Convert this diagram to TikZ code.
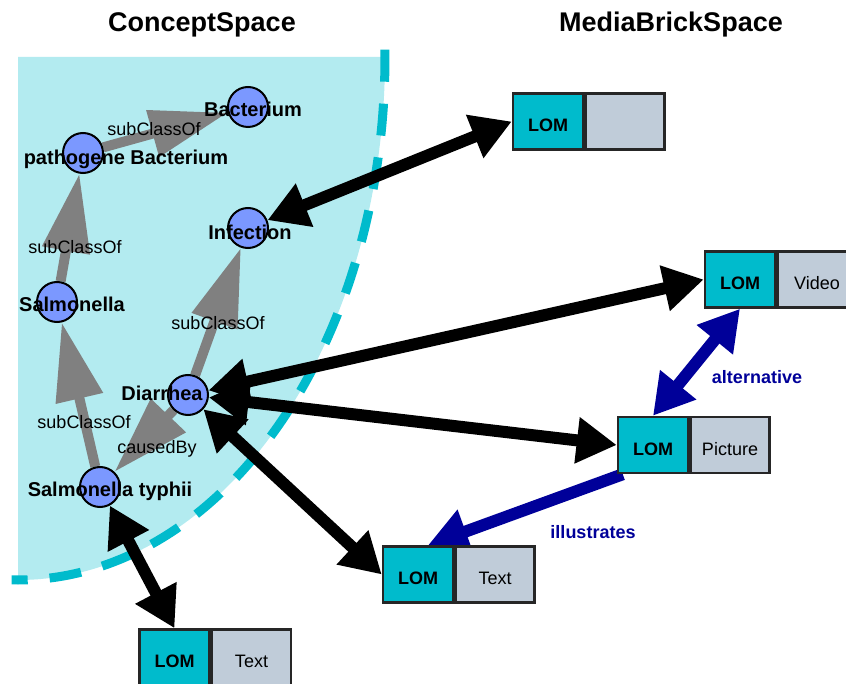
\documentclass[tikz,border=0pt]{standalone}
\usepackage{fontspec}
\setmainfont{Liberation Sans}
\usepackage{tikz}
\usetikzlibrary{arrows.meta, positioning, calc}
\definecolor{ConceptFill}{HTML}{B3EBF0}
\definecolor{ConceptEdge}{HTML}{00BBCC}
\definecolor{NodeBlue}{HTML}{7B98FF}
\definecolor{LomCyan}{HTML}{00BBCC}
\definecolor{MediaGray}{HTML}{C0CCD9}
\definecolor{RelGray}{HTML}{808080}
\definecolor{LinkNavy}{HTML}{000099}
\pgfdeclarelayer{background}
\pgfdeclarelayer{edges}
\pgfsetlayers{background,edges,main}

\begin{document}
\begin{tikzpicture}[x=1pt, y=-1pt,
    spacetitle/.style={font=\fontsize{27}{30}\selectfont\bfseries, inner sep=0pt, text height=19pt, text depth=0pt},
    concept/.style={circle, draw=black, line width=2pt, fill=NodeBlue, minimum size=40pt, inner sep=0pt},
    conceptname/.style={font=\fontsize{20}{22}\selectfont\bfseries, inner sep=0pt, text height=14pt, text depth=0pt},
    rel/.style={draw=RelGray, line width=10pt, -{Triangle[length=78pt, width=46pt]}},
    rellabel/.style={font=\fontsize{18}{20}\selectfont, inner sep=0pt, text height=13pt, text depth=0pt},
    lompart/.style={rectangle, draw=black!85, line width=2.5pt, fill=LomCyan, minimum width=70pt, minimum height=56pt,
                    inner sep=0pt, text height=20pt, text depth=0pt, font=\fontsize{18}{20}\selectfont\bfseries},
    mediapart/.style={rectangle, draw=black!85, line width=2.5pt, fill=MediaGray, minimum width=79pt, minimum height=56pt,
                      inner sep=0pt, text height=20pt, text depth=0pt, font=\fontsize{18}{20}\selectfont},
    link/.style={line width=12pt, {Triangle[length=40pt, width=44pt]}-{Triangle[length=40pt, width=44pt]}},
    bluelink/.style={draw=LinkNavy, line width=12pt},
    linklabel/.style={font=\fontsize{18}{20}\selectfont\bfseries, text=LinkNavy, inner sep=0pt, text height=13pt, text depth=0pt}]
    \useasboundingbox (0,0) rectangle (846,684);

    % the two spaces
    \node[spacetitle] (concepttitle) at (202,22) {ConceptSpace};
    \node[spacetitle] (mediatitle) at (671,22) {MediaBrickSpace};

    \begin{pgfonlayer}{background}
        \fill[ConceptFill] (18,57) -- (385,57) arc[start angle=0, end angle=90, x radius=367, y radius=523] -- cycle;
        \draw[ConceptEdge, line width=9pt, dash pattern=on 32pt off 22pt]
            ($(18,57)+(-0.8:367 and 523)$) arc[start angle=-0.8, end angle=91, x radius=367, y radius=523];
    \end{pgfonlayer}

    % concepts
    \node[concept] (bacterium) at (248,107) {};
    \node[concept] (pathogen) at (83,153) {};
    \node[concept] (infection) at (248,228) {};
    \node[concept] (salmonella) at (57,302) {};
    \node[concept] (diarrhea) at (188,395) {};
    \node[concept] (typhii) at (100,487) {};

    % media bricks
    \node[lompart] (lomtop) at (548,121.5) {LOM};
    \node[mediapart, right=0pt of lomtop] (mediatop) {};
    \node[lompart] (lomvideo) at (740,279.5) {LOM};
    \node[mediapart, right=0pt of lomvideo] (mediavideo) {Video};
    \node[lompart] (lompicture) at (653,445) {LOM};
    \node[mediapart, right=0pt of lompicture] (mediapicture) {Picture};
    \node[lompart] (lomtext) at (418,574.5) {LOM};
    \node[mediapart, right=0pt of lomtext] (mediatext) {Text};
    \node[lompart] (lomtextlow) at (174.5,657.5) {LOM};
    \node[mediapart, right=0pt of lomtextlow] (mediatextlow) {Text};

    \begin{pgfonlayer}{edges}
        \draw[rel] (pathogen) -- (bacterium);
        \draw[rel] (salmonella) -- (pathogen);
        \draw[rel] (diarrhea) -- (infection);
        \draw[rel] (typhii) -- (salmonella);
        \draw[rel] (diarrhea) -- (typhii);

        \draw[link] (infection) -- (lomtop.west);
        \draw[link] (diarrhea) -- (lomvideo.west);
        \draw[link] (diarrhea) -- (lompicture.west);
        \draw[link] (diarrhea) -- (lomtext.west);
        \draw[link] (typhii) -- (lomtextlow.north);

        \draw[bluelink, {Triangle[length=40pt, width=44pt]}-{Triangle[length=40pt, width=44pt]}] (lomvideo.south) -- (lompicture.north);
        \draw[bluelink, -{Triangle[length=40pt, width=44pt]}] ([xshift=6pt]lompicture.south west) -- ([xshift=10pt]lomtext.north);
    \end{pgfonlayer}

    % names on top
    \node[conceptname] (bacteriumname) at (253,110) {Bacterium};
    \node[conceptname] (pathogenname) at (126,158) {pathogene Bacterium};
    \node[conceptname] (infectionname) at (250,233) {Infection};
    \node[conceptname] (salmonellaname) at (72,305) {Salmonella};
    \node[conceptname] (diarrheaname) at (162,394) {Diarrhea};
    \node[conceptname] (typhiiname) at (110,489) {Salmonella typhii};

    \node[rellabel] (relbacterium) at (154,129) {subClassOf};
    \node[rellabel] (relpathogen) at (75,247) {subClassOf};
    \node[rellabel] (relinfection) at (218,323) {subClassOf};
    \node[rellabel] (relsalmonella) at (84,422) {subClassOf};
    \node[rellabel] (relcaused) at (157,447) {causedBy};

    \node[linklabel] (altlabel) at (757,377) {alternative};
    \node[linklabel] (illlabel) at (593,532) {illustrates};
\end{tikzpicture}
\end{document}
